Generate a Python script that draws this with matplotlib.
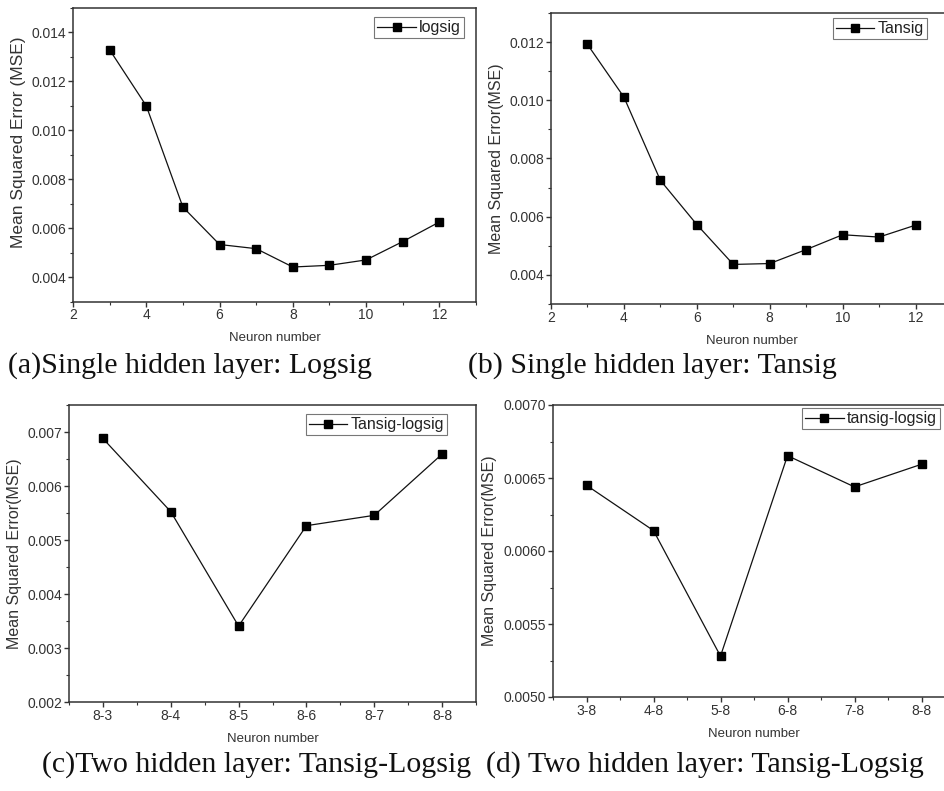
import matplotlib
matplotlib.use("Agg")
import matplotlib.pyplot as plt
from matplotlib.ticker import MultipleLocator, FormatStrFormatter

# data
neurons = [3, 4, 5, 6, 7, 8, 9, 10, 11, 12]
mse_logsig = [0.01329, 0.01100, 0.00686, 0.00533, 0.00516, 0.00441, 0.00448, 0.00470, 0.00545, 0.00625]
mse_tansig = [0.01192, 0.01011, 0.00725, 0.00573, 0.00436, 0.00439, 0.00487, 0.00538, 0.00530, 0.00571]

labels_c = ['8-3', '8-4', '8-5', '8-6', '8-7', '8-8']
mse_c = [0.00688, 0.005525, 0.003406, 0.005265, 0.005457, 0.006591]

labels_d = ['3-8', '4-8', '5-8', '6-8', '7-8', '8-8']
mse_d = [0.00645, 0.00614, 0.00528, 0.006653, 0.006439, 0.006594]

W, H = 944, 791
plt.rcParams['font.family'] = ['Liberation Sans', 'DejaVu Sans']
fig = plt.figure(figsize=(W/100, H/100), dpi=100)

spine_c = '#333333'
line_c = '#111111'


def px_axes(l, t, r, b):
    return fig.add_axes([l/W, 1-b/H, (r-l)/W, (b-t)/H])


def style(ax, ylabel, ylab_x, ylab_y=0.5, ylab_size=11.5):
    for s in ax.spines.values():
        s.set_color(spine_c)
        s.set_linewidth(1.1)
    ax.tick_params(which='major', direction='out', length=3.5, width=1, color=spine_c,
                   labelsize=10, pad=1.5, labelcolor='#333333')
    ax.tick_params(which='minor', direction='out', length=2, width=0.8, color=spine_c)
    ax.tick_params(top=False, right=False)
    ax.set_ylabel(ylabel, fontsize=ylab_size, color='#333333')
    ax.yaxis.set_label_coords(ylab_x, ylab_y)
    ax.set_xlabel('Neuron number', fontsize=9.5, color='#333333', labelpad=7)


def legend(ax, label, r, t):
    leg = ax.legend([ax.lines[0]], [label], loc='upper right', bbox_to_anchor=(r/W, 1-t/H),
                    bbox_transform=fig.transFigure, fancybox=False, edgecolor='#777777',
                    framealpha=1, fontsize=11.5, handlelength=2.4, handletextpad=0.2,
                    borderpad=0.2, borderaxespad=0)
    leg.get_frame().set_linewidth(0.8)
    for t_ in leg.get_texts():
        t_.set_color('#222222')


kw = dict(color=line_c, lw=0.9, marker='s', ms=5.5, mfc='black', mec='black')

# (a)
ax = px_axes(73, 8, 476, 301.5)
ax.plot(neurons, mse_logsig, **kw)
ax.set_xlim(2, 13)
ax.set_ylim(0.003, 0.015)
ax.set_xticks([2, 4, 6, 8, 10, 12])
ax.xaxis.set_minor_locator(MultipleLocator(1))
ax.set_yticks([0.004, 0.006, 0.008, 0.010, 0.012, 0.014])
ax.yaxis.set_minor_locator(MultipleLocator(0.001))
ax.yaxis.set_major_formatter(FormatStrFormatter('%.3f'))
style(ax, 'Mean Squared Error (MSE)', -47/403, 0.543, 12.5)
legend(ax, 'logsig', 464, 17)

# (b)
ax = px_axes(551, 13, 952, 304)
ax.plot(neurons, mse_tansig, **kw)
ax.set_xlim(2, 13)
ax.set_ylim(0.003, 0.013)
ax.set_xticks([2, 4, 6, 8, 10, 12])
ax.xaxis.set_minor_locator(MultipleLocator(1))
ax.set_yticks([0.004, 0.006, 0.008, 0.010, 0.012])
ax.yaxis.set_minor_locator(MultipleLocator(0.001))
ax.yaxis.set_major_formatter(FormatStrFormatter('%.3f'))
style(ax, 'Mean Squared Error(MSE)', -47/401)
legend(ax, 'Tansig', 927, 18)

# (c)
ax = px_axes(69, 405, 476, 702)
ax.plot(range(len(labels_c)), mse_c, **kw)
ax.set_xlim(-0.5, 5.5)
ax.set_ylim(0.002, 0.0075)
ax.set_xticks(range(len(labels_c)))
ax.set_xticklabels(labels_c)
ax.xaxis.set_minor_locator(MultipleLocator(0.5))
ax.set_yticks([0.002, 0.003, 0.004, 0.005, 0.006, 0.007])
ax.yaxis.set_minor_locator(MultipleLocator(0.0005))
ax.yaxis.set_major_formatter(FormatStrFormatter('%.3f'))
style(ax, 'Mean Squared Error(MSE)', -47/407)
legend(ax, 'Tansig-logsig', 447, 414)

# (d)
ax = px_axes(553, 405, 955, 697)
ax.plot(range(len(labels_d)), mse_d, **kw)
ax.set_xlim(-0.5, 5.5)
ax.set_ylim(0.005, 0.007)
ax.set_xticks(range(len(labels_d)))
ax.set_xticklabels(labels_d)
ax.xaxis.set_minor_locator(MultipleLocator(0.5))
ax.set_yticks([0.0050, 0.0055, 0.0060, 0.0065, 0.0070])
ax.yaxis.set_minor_locator(MultipleLocator(0.00025))
ax.yaxis.set_major_formatter(FormatStrFormatter('%.4f'))
style(ax, 'Mean Squared Error(MSE)', -56/402)
legend(ax, 'tansig-logsig', 940, 408)

cap = dict(family=['Liberation Serif', 'DejaVu Serif'], fontsize=21.5, va='center', ha='left', color='#111111')
fig.text(8/W, 1-366/H, '(a)Single hidden layer: Logsig', **cap)
fig.text(468/W, 1-366/H, '(b) Single hidden layer: Tansig', **cap)
fig.text(42/W, 1-765/H, '(c)Two hidden layer: Tansig-Logsig', **cap)
fig.text(486/W, 1-765/H, '(d) Two hidden layer: Tansig-Logsig', **cap)

fig.savefig('out.png', dpi=100)
